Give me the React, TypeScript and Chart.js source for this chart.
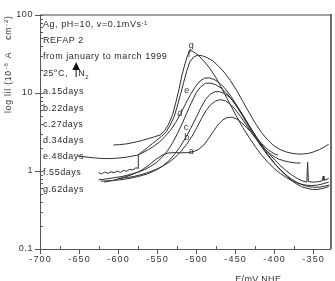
import { useEffect, useRef } from 'react';
import { Chart, registerables } from 'chart.js';

Chart.register(...registerables);

// Potential axis (mV vs NHE) and current-density axis ticks
const xTickValues = [-700, -650, -600, -550, -500, -450, -400, -350];
const yTickValues = [0.1, 1, 10, 100];
const yTickTexts = ['0.1', '1', '10', '100'];

// Curve a: 15 days
const eA = [-618, -606, -594, -582, -570, -560, -551, -543, -536, -528, -520, -512, -504, -497, -490, -484, -478, -472, -466, -460, -454, -448, -442, -435, -428, -421, -414, -407, -400, -395];
const iA = [0.72, 0.76, 0.82, 0.9, 1.02, 1.2, 1.42, 1.6, 1.7, 1.72, 1.71, 1.72, 1.76, 1.88, 2.15, 2.6, 3.2, 3.9, 4.5, 4.85, 4.9, 4.65, 4.2, 3.6, 3.05, 2.55, 2.15, 1.85, 1.67, 1.6];

// Curve b: 22 days
const eB = [-600, -590, -580, -570, -560, -550, -541, -533, -526, -519, -512, -505, -499, -493, -487, -481, -475, -469, -463, -457, -450, -443, -436, -429, -422, -415, -408, -401, -394, -387, -380, -373, -366];
const iB = [0.8, 0.82, 0.85, 0.9, 0.97, 1.06, 1.18, 1.33, 1.52, 1.8, 2.2, 2.8, 3.6, 4.7, 6.0, 7.1, 7.9, 8.2, 8.0, 7.3, 6.2, 5.0, 3.95, 3.1, 2.5, 2.05, 1.75, 1.55, 1.42, 1.35, 1.3, 1.27, 1.26];

// Curve c: 27 days
const eC = [-622, -610, -598, -586, -574, -562, -552, -543, -535, -528, -521, -514, -507, -500, -494, -488, -482, -476, -470, -463, -456, -449, -442, -435, -428, -421, -414, -407, -400, -393, -386, -379, -372, -365, -358, -351, -344, -337, -330];
const iC = [0.74, 0.75, 0.77, 0.8, 0.85, 0.92, 1.02, 1.15, 1.35, 1.62, 2.0, 2.6, 3.5, 4.8, 6.4, 8.2, 9.6, 10.4, 10.4, 9.8, 8.6, 7.1, 5.6, 4.3, 3.3, 2.55, 1.98, 1.58, 1.28, 1.06, 0.9, 0.78, 0.69, 0.63, 0.6, 0.58, 0.58, 0.6, 0.63];

// Curve d: 34 days
const eD = [-625, -615, -605, -595, -585, -575, -566, -558, -550, -543, -536, -530, -524, -518, -512, -506, -500, -494, -488, -482, -475, -468, -461, -454, -447, -440, -433, -426, -419, -412, -405, -398, -391, -384, -377, -370, -363, -356, -349, -342, -335, -329];
const iD = [0.77, 0.79, 0.82, 0.85, 0.9, 0.96, 1.04, 1.15, 1.3, 1.52, 1.85, 2.3, 3.0, 4.0, 5.5, 7.5, 10, 12, 13.3, 13.4, 12.8, 11.6, 10, 8.2, 6.5, 5.0, 3.8, 2.9, 2.25, 1.78, 1.45, 1.2, 1.02, 0.88, 0.78, 0.71, 0.66, 0.63, 0.62, 0.62, 0.64, 0.66];

// Curve e: 48 days
const eE = [-652, -645, -638, -630, -622, -614, -606, -598, -590, -582, -575, -568, -561, -554, -547, -540, -533, -526, -519, -513, -507, -501, -495, -489, -483, -476, -469, -462, -455, -448, -441, -434, -427, -420, -413, -406, -399, -392, -385, -378, -371, -364, -358, -357, -356, -350, -343, -338, -337, -336, -330];
const iE = [1.55, 1.53, 1.5, 1.47, 1.45, 1.44, 1.45, 1.47, 1.5, 1.55, 1.6, 1.72, 1.88, 2.08, 2.35, 2.75, 3.3, 4.2, 5.6, 7.4, 9.6, 12, 14.2, 15.5, 15.6, 14.8, 13.2, 11.2, 9.0, 7.0, 5.4, 4.1, 3.2, 2.5, 2.0, 1.65, 1.38, 1.18, 1.02, 0.9, 0.81, 0.75, 0.72, 1.3, 0.73, 0.72, 0.73, 0.75, 0.86, 0.76, 0.8];

// Curve f: 55 days
const eF = [-625, -621, -617, -613, -609, -605, -601, -597, -593, -589, -585, -581, -577, -574, -574, -568, -562, -556, -550, -544, -538, -533, -528, -524, -520, -516, -512, -508, -503, -498, -492, -486, -479, -472, -464, -456, -448, -440, -432, -424, -416, -408, -400, -392, -384, -376, -369, -363, -356, -349, -342, -336, -330];
const iF = [0.95, 0.92, 0.97, 0.93, 0.98, 0.95, 1.0, 0.96, 1.02, 0.99, 1.05, 1.03, 1.1, 1.08, 1.62, 1.8, 2.0, 2.25, 2.5, 2.8, 3.2, 3.9, 5.0, 6.8, 9.5, 13.5, 19, 25, 29, 30.5, 30, 28.5, 26, 22.5, 18.5, 14.5, 10.8, 7.8, 5.6, 4.1, 3.1, 2.5, 2.1, 1.88, 1.75, 1.68, 1.65, 1.65, 1.68, 1.76, 1.88, 2.02, 2.2];

// Curve g: 62 days
const eG = [-606, -598, -590, -582, -575, -567, -560, -553, -546, -540, -535, -530, -526, -522, -518, -514, -511, -508, -504, -500, -495, -489, -482, -475, -468, -461, -454, -447, -440, -432, -424, -416, -408, -400, -392, -384, -376, -368, -360, -352, -344, -336, -330];
const iG = [2.15, 2.18, 2.22, 2.3, 2.38, 2.5, 2.62, 2.75, 2.9, 3.3, 4.0, 5.3, 7.5, 11, 17, 24, 30, 35, 34, 32, 29, 25, 20.5, 16, 12, 8.8, 6.5, 4.8, 3.6, 2.7, 2.05, 1.6, 1.3, 1.08, 0.93, 0.82, 0.74, 0.69, 0.66, 0.65, 0.66, 0.69, 0.72];

// Letters tagging each curve, placed in data space
const tagLetters = ['a', 'b', 'c', 'd', 'e', 'f', 'g'];
const tagE = [-506, -512, -513, -521, -512, -509, -506];
const tagI = [1.78, 2.65, 3.66, 5.5, 10.9, 30.7, 41];

// Legend block text
const legendDays = ['a.15days', 'b.22days', 'c.27days', 'd.34days', 'e.48days', 'f.55days', 'g.62days'];

const FONT = 'Arial, "Liberation Sans", sans-serif';

function spacing(ctx: CanvasRenderingContext2D, px: number) {
  (ctx as any).letterSpacing = px + 'px';
}

const overlay = {
  id: 'overlay',
  afterDraw(chart: any) {
    const { ctx, chartArea: a } = chart;
    const xs = chart.scales.x;
    const ys = chart.scales.y;
    ctx.save();

    // frame
    ctx.lineWidth = 2;
    ctx.strokeStyle = '#a2a2a2';
    ctx.beginPath();
    ctx.moveTo(a.left, a.top);
    ctx.lineTo(a.right, a.top);
    ctx.stroke();
    ctx.lineWidth = 1.5;
    ctx.strokeStyle = '#3a3a3a';
    ctx.beginPath();
    ctx.moveTo(a.right, a.top - 1);
    ctx.lineTo(a.right, a.bottom);
    ctx.stroke();
    ctx.lineWidth = 1;
    ctx.strokeStyle = '#555';
    ctx.beginPath();
    ctx.moveTo(a.left + 0.5, a.top);
    ctx.lineTo(a.left + 0.5, a.bottom + 0.5);
    ctx.lineTo(a.right, a.bottom + 0.5);
    ctx.stroke();

    // y ticks: majors outward, minors inward
    for (let d = -1; d <= 2; d++) {
      for (let m = 1; m <= 9; m++) {
        const v = m * Math.pow(10, d);
        if (v < 0.1 - 1e-9 || v > 100 + 1e-9) continue;
        const py = Math.round(ys.getPixelForValue(v)) + 0.5;
        ctx.beginPath();
        if (m === 1) {
          ctx.moveTo(a.left - 5, py);
          ctx.lineTo(a.left + 3, py);
        } else {
          ctx.moveTo(a.left, py);
          ctx.lineTo(a.left + 3, py);
        }
        ctx.stroke();
      }
    }

    // x ticks
    for (let v = -700; v <= -350; v += 25) {
      const px = Math.round(xs.getPixelForValue(v)) + 0.5;
      ctx.beginPath();
      if (v % 50 === 0) {
        ctx.moveTo(px, a.bottom);
        ctx.lineTo(px, a.bottom + 5);
      } else {
        ctx.moveTo(px, a.bottom);
        ctx.lineTo(px, a.bottom - 3);
      }
      ctx.stroke();
    }

    // tick labels
    ctx.fillStyle = '#333';
    ctx.font = '9px ' + FONT;
    spacing(ctx, 1.2);
    ctx.textAlign = 'center';
    ctx.textBaseline = 'middle';
    xTickValues.forEach((v) => {
      ctx.fillText(String(v), xs.getPixelForValue(v) + 0.6, a.bottom + 11);
    });
    spacing(ctx, 0.6);
    ctx.textAlign = 'right';
    yTickValues.forEach((v, i) => {
      ctx.fillText(yTickTexts[i], a.left - 7, ys.getPixelForValue(v));
    });

    // x title
    spacing(ctx, 0.3);
    ctx.textAlign = 'center';
    ctx.textBaseline = 'top';
    ctx.fillText('E/mV NHE', a.left + a.width * 0.75, a.bottom + 26);

    // y title, rotated, drawn piece by piece
    ctx.save();
    ctx.translate(9, 113);
    ctx.rotate(-Math.PI / 2);
    ctx.textAlign = 'left';
    ctx.textBaseline = 'middle';
    let cx = 0;
    const piece = (t: string, size: number, dy: number, gap = 0) => {
      ctx.font = size + 'px ' + FONT;
      ctx.fillText(t, cx, dy);
      cx += ctx.measureText(t).width + gap;
    };
    spacing(ctx, 0.8);
    piece('log lil (10', 8.5, 0, 1);
    piece('-6', 6, -3, 4);
    piece('A', 8.5, 0, 12);
    piece('cm', 8.5, 0, 1);
    piece('-2', 6, -3, 0);
    piece(')', 8.5, 0);
    ctx.restore();

    // legend block
    const lx = a.left + 3;
    ctx.textAlign = 'left';
    ctx.textBaseline = 'middle';
    ctx.fillStyle = '#2a2a2a';
    spacing(ctx, 0.55);
    ctx.font = '9px ' + FONT;
    let tx = lx;
    const run = (t: string, y: number, size = 9) => {
      ctx.font = size + 'px ' + FONT;
      ctx.fillText(t, tx, y);
      tx += ctx.measureText(t).width;
    };
    let y0 = a.top + 10;
    tx = lx;
    run('Ag, pH=10, v=0.1mVs', y0);
    run('-1', y0 - 2, 6);
    y0 = a.top + 26;
    tx = lx;
    run('REFAP 2', y0);
    y0 = a.top + 42;
    tx = lx;
    run('from january to march 1999', y0);
    y0 = a.top + 59;
    tx = lx;
    run('25', y0);
    run('o', y0 - 4, 6);
    run('C, ', y0);
    const arrowX = tx + 5;
    // N2 arrow
    ctx.strokeStyle = '#111';
    ctx.lineWidth = 1;
    ctx.beginPath();
    ctx.moveTo(arrowX, y0 + 3);
    ctx.lineTo(arrowX, y0 - 6);
    ctx.stroke();
    ctx.fillStyle = '#111';
    ctx.beginPath();
    ctx.moveTo(arrowX, y0 - 12);
    ctx.lineTo(arrowX - 3.8, y0 - 4);
    ctx.lineTo(arrowX + 3.8, y0 - 4);
    ctx.closePath();
    ctx.fill();
    ctx.fillStyle = '#2a2a2a';
    tx = arrowX + 2;
    run('N', y0);
    run('2', y0 + 3, 6);
    legendDays.forEach((t, i) => {
      tx = lx;
      run(t, a.top + 77 + i * 16.2);
    });

    // curve tags
    ctx.font = '9px ' + FONT;
    spacing(ctx, 0);
    ctx.textAlign = 'center';
    ctx.fillStyle = '#333';
    tagLetters.forEach((t, i) => {
      ctx.fillText(t, xs.getPixelForValue(tagE[i]), ys.getPixelForValue(tagI[i]));
    });

    ctx.restore();
  },
};

function series(e: number[], i: number[]) {
  return {
    data: e.map((x, k) => ({ x, y: i[k] })),
    showLine: true,
    borderColor: '#2e2e2e',
    borderWidth: 1,
    pointRadius: 0,
    tension: 0,
    fill: false,
  };
}

export default function App() {
  const ref = useRef<HTMLCanvasElement | null>(null);

  useEffect(() => {
    if (!ref.current) return;
    const chart = new Chart(ref.current, {
      type: 'scatter',
      data: {
        datasets: [
          series(eA, iA),
          series(eB, iB),
          series(eC, iC),
          series(eD, iD),
          series(eE, iE),
          series(eF, iF),
          series(eG, iG),
        ],
      },
      options: {
        animation: false,
        responsive: false,
        events: [],
        layout: { padding: { top: 15, right: 4, left: 0, bottom: 0 } },
        plugins: { legend: { display: false }, tooltip: { enabled: false } },
        scales: {
          x: {
            type: 'linear',
            min: -700,
            max: -327,
            ticks: { display: false },
            grid: { display: false },
            border: { display: false },
            afterFit: (s: any) => {
              s.height = 32;
            },
          },
          y: {
            type: 'logarithmic',
            min: 0.1,
            max: 100,
            ticks: { display: false },
            grid: { display: false },
            border: { display: false },
            afterFit: (s: any) => {
              s.width = 40;
            },
          },
        },
      },
      plugins: [overlay],
    });
    return () => chart.destroy();
  }, []);

  return (
    <div style={{ position: 'fixed', left: 0, top: 0, width: 335, height: 281, background: '#fff' }}>
      <canvas ref={ref} width={335} height={281} style={{ display: 'block' }} />
    </div>
  );
}
